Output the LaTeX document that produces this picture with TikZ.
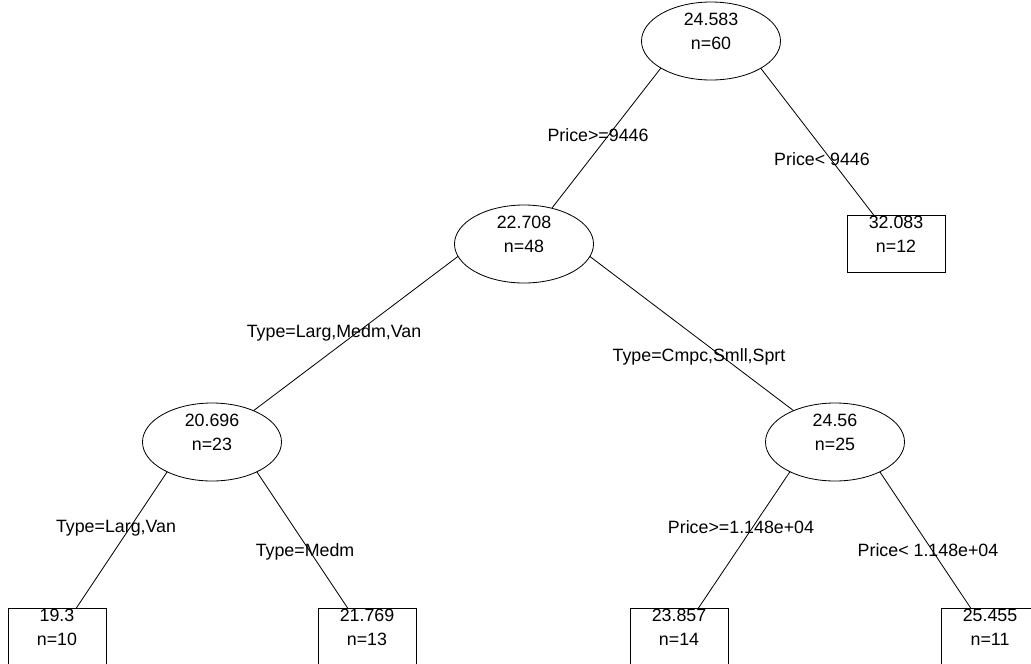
\documentclass[tikz,border=0pt]{standalone}
\usepackage{fontspec}
\setmainfont{Liberation Sans}
\usetikzlibrary{shapes.geometric,backgrounds}

\begin{document}
\begin{tikzpicture}[
            x=0.03cm, y=-0.03cm, % pixel grid, y pointing down
            split/.style={ellipse, draw=black, fill=white, line width=0.7pt, inner sep=0pt, minimum width=4.17cm, minimum height=2.34cm},
            leaf/.style={rectangle, draw=black, fill=white, line width=0.7pt, inner sep=0pt, minimum width=2.94cm, minimum height=1.71cm},
            stat/.style={inner sep=0pt, align=center, font=\fontsize{15.2}{20.5}\selectfont},
            cond/.style={inner sep=0pt, anchor=base, font=\fontsize{15.2}{18}\selectfont},
            edge/.style={line width=0.7pt, draw=black}
        ]
        \useasboundingbox (0,0) rectangle (1031,663);

        % Split nodes
        \node[split] (root) at (711,41) {};
        \node[split] (n2) at (524,244) {};
        \node[split] (n3) at (212,442) {};
        \node[split] (n4) at (835,442) {};

        % Leaves
        \node[leaf] (l1) at (896,244) {};
        \node[leaf] (l2) at (57,637) {};
        \node[leaf] (l3) at (367,637) {};
        \node[leaf] (l4) at (679,637) {};
        \node[leaf] (l5) at (990,637) {};

        % Fitted values and counts
        \node[stat] (root-t) at ([yshift=0.3cm]root) {24.583\\n=60};
        \node[stat] (n2-t) at ([yshift=0.3cm]n2) {22.708\\n=48};
        \node[stat] (n3-t) at ([yshift=0.3cm]n3) {20.696\\n=23};
        \node[stat] (n4-t) at ([yshift=0.3cm]n4) {24.56\\n=25};
        \node[stat] (l1-t) at ([yshift=0.3cm]l1) {32.083\\n=12};
        \node[stat] (l2-t) at ([yshift=0.3cm]l2) {19.3\\n=10};
        \node[stat] (l3-t) at ([yshift=0.3cm]l3) {21.769\\n=13};
        \node[stat] (l4-t) at ([yshift=0.3cm]l4) {23.857\\n=14};
        \node[stat] (l5-t) at ([yshift=0.3cm]l5) {25.455\\n=11};

        % Branch tips, just inside the top of each ellipse
        \coordinate (root-tip) at ([yshift=-0.06cm]root.north);
        \coordinate (n2-tip) at ([yshift=-0.06cm]n2.north);
        \coordinate (n3-tip) at ([yshift=-0.06cm]n3.north);
        \coordinate (n4-tip) at ([yshift=-0.06cm]n4.north);

        % Branches
        \begin{scope}[on background layer]
        \draw[edge] (root-tip) -- (n2.center);
        \draw[edge] (root-tip) -- (l1.center);
        \draw[edge] (n2-tip) -- (n3.center);
        \draw[edge] (n2-tip) -- (n4.center);
        \draw[edge] (n3-tip) -- (l2.center);
        \draw[edge] (n3-tip) -- (l3.center);
        \draw[edge] (n4-tip) -- (l4.center);
        \draw[edge] (n4-tip) -- (l5.center);
        \end{scope}

        % Split rules
        \node[cond] (c1) at (598,141) {Price>=9446};
        \node[cond] (c2) at (822,165) {Price< 9446};
        \node[cond] (c3) at (334,337) {Type=Larg,Medm,Van};
        \node[cond] (c4) at (699,361) {Type=Cmpc,Smll,Sprt};
        \node[cond] (c5) at (116,532) {Type=Larg,Van};
        \node[cond] (c6) at (305,556) {Type=Medm};
        \node[cond] (c7) at (741,533) {Price>=1.148e+04};
        \node[cond] (c8) at (928,556) {Price< 1.148e+04};

        \end{tikzpicture}
\end{document}
